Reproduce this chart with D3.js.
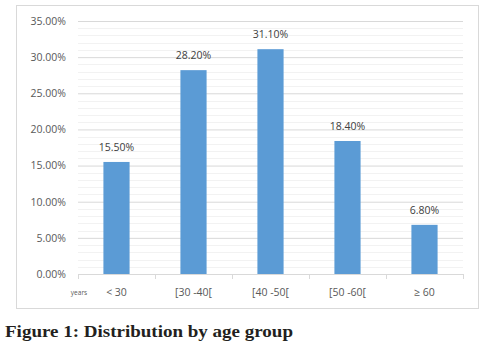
<!DOCTYPE html>
<html><head><meta charset="utf-8">
<script src="https://cdn.jsdelivr.net/npm/d3@7"></script>
<style>body{margin:0;background:#fff}</style>
</head><body>
<svg id="c" width="504" height="347"></svg>
<script>
const categories = ["< 30", "[30 -40[", "[40 -50[", "[50 -60[", "\u2265 60"];
const values = [15.5, 28.2, 31.1, 18.4, 6.8];
const yTicks = [0, 5, 10, 15, 20, 25, 30, 35];
const xAxisUnit = "years";
const caption = "Figure 1: Distribution by age group";

const svg = d3.select("#c");
const m = {left: 78, right: 463, top: 21, bottom: 274};
const x = d3.scaleBand().domain(categories).range([m.left, m.right]).paddingInner(0.66).paddingOuter(0.33);
const y = d3.scaleLinear().domain([0, 35]).range([m.bottom, m.top]);

// chart frame
svg.append("rect").attr("x", 16.5).attr("y", 5.5).attr("width", 462).attr("height", 303)
  .attr("fill", "#fff").attr("stroke", "#d9d9d9");

// minor gridlines
svg.append("g").selectAll("line").data(d3.range(1, 35).filter(v => v % 5 !== 0)).join("line")
  .attr("x1", m.left).attr("x2", m.right)
  .attr("y1", d => Math.round(y(d)) + 0.5).attr("y2", d => Math.round(y(d)) + 0.5)
  .attr("stroke", "#f2f2f2");

// major gridlines + y labels
const yAxis = d3.axisLeft(y).tickValues(yTicks).tickSize(-(m.right - m.left)).tickPadding(12)
  .tickFormat(d => d.toFixed(2) + "%");
const gy = svg.append("g").attr("transform", `translate(${m.left},0)`).call(yAxis);
gy.select(".domain").remove();
gy.selectAll(".tick line").attr("stroke", "#d9d9d9");
gy.selectAll(".tick text").attr("fill", "#595959").style("font-family", "'Open Sans', sans-serif").style("font-size", "10.5px");

// bars
svg.append("g").selectAll("rect").data(values).join("rect")
  .attr("x", (d, i) => x(categories[i])).attr("width", x.bandwidth())
  .attr("y", d => y(d)).attr("height", d => y(0) - y(d))
  .attr("fill", "#5b9bd5");

// data labels
svg.append("g").selectAll("text").data(values).join("text")
  .attr("x", (d, i) => x(categories[i]) + x.bandwidth() / 2)
  .attr("y", d => y(d) - 11)
  .attr("text-anchor", "middle").attr("fill", "#404040")
  .style("font-family", "'Open Sans', sans-serif").style("font-size", "10.5px")
  .text(d => d.toFixed(2) + "%");

// x axis
const xTickPos = d3.range(categories.length + 1).map(i => m.left + i * (m.right - m.left) / categories.length);
svg.append("line").attr("x1", m.left).attr("x2", m.right).attr("y1", m.bottom + 0.5).attr("y2", m.bottom + 0.5).attr("stroke", "#d9d9d9");
svg.append("g").selectAll("line").data(xTickPos).join("line")
  .attr("x1", d => Math.round(d) + 0.5).attr("x2", d => Math.round(d) + 0.5)
  .attr("y1", m.bottom).attr("y2", m.bottom + 5).attr("stroke", "#d9d9d9");
svg.append("g").selectAll("text").data(categories).join("text")
  .attr("x", d => x(d) + x.bandwidth() / 2).attr("y", 295.5)
  .attr("text-anchor", "middle").attr("fill", "#595959")
  .style("font-family", "'Open Sans', sans-serif").style("font-size", "10.5px")
  .text(d => d);
svg.append("text").attr("x", 79).attr("y", 294.5).attr("text-anchor", "middle").attr("fill", "#595959")
  .style("font-family", "'Open Sans', sans-serif").style("font-size", "6.5px").text(xAxisUnit);

// caption
svg.append("text").attr("x", 5).attr("y", 337).attr("fill", "#231f20")
  .attr("textLength", 288).attr("lengthAdjust", "spacingAndGlyphs")
  .style("font-family", "'Liberation Serif', serif").style("font-weight", "bold").style("font-size", "17.5px")
  .text(caption);
</script>
</body></html>
